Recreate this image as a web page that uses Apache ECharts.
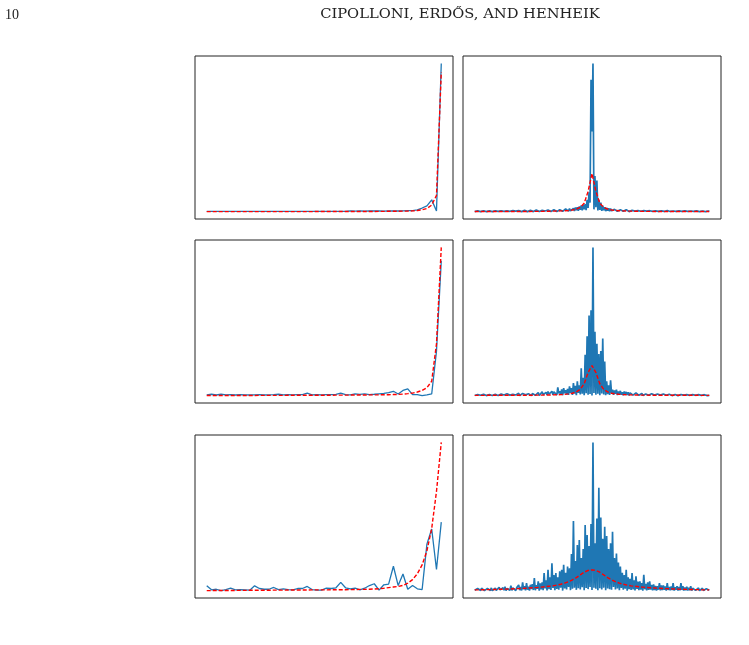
<!DOCTYPE html>
<html>
<head>
<meta charset="utf-8">
<script src="https://cdn.jsdelivr.net/npm/echarts@6/dist/echarts.min.js"></script>
<style>
  html, body { margin: 0; padding: 0; background: #fff; }
  #chart { width: 749px; height: 645px; }
</style>
</head>
<body>
<div id="chart"></div>
<script>
// page header
var pageNumber = '10';
var runningHead = 'CIPOLLONI, ERDŐS, AND HENHEIK';

// left column: 50 samples each (blue = data, red = fit)
var leftBlue1 = [0.2,0.3,0.2,0.2,0.3,0.2,0.2,0.3,0.2,0.2, 0.3,0.2,0.2,0.2,0.3,0.2,0.2,0.3,0.2,0.2,
  0.3,0.2,0.2,0.3,0.2,0.3,0.2,0.2,0.3,0.2, 0.5,0.4,0.5,0.4,0.5,0.6,0.5,0.4,0.6,0.5,
  0.5,0.6,0.7,0.8,1.2,2.5,4.0,8.0,0.5,100];
var leftRed1 = [0.1,0.1,0.1,0.1,0.1,0.1,0.1,0.1,0.1,0.1, 0.1,0.1,0.1,0.1,0.1,0.1,0.1,0.1,0.1,0.1,
  0.1,0.1,0.1,0.15,0.15,0.15,0.15,0.15,0.15,0.15, 0.2,0.2,0.2,0.2,0.2,0.2,0.25,0.25,0.3,0.3,
  0.35,0.4,0.45,0.55,0.8,1.3,2.2,4.5,11,94];

var leftBlue2 = [0.5,0.9,0.4,0.9,0.5,0.6,0.4,0.6,0.5,0.4, 0.5,0.6,0.4,0.5,0.6,0.9,0.5,0.6,0.5,0.7,
  0.6,1.6,0.5,0.6,0.5,0.6,0.7,0.8,1.6,0.6, 0.5,1.1,0.8,1.1,0.7,0.9,1.2,1.5,2.0,2.9,
  1.1,3.5,4.5,0.7,0.6,0.0,0.5,1.1,30,91];
var leftRed2 = [0.05,0.05,0.05,0.05,0.1,0.1,0.1,0.1,0.1,0.1, 0.1,0.15,0.15,0.15,0.15,0.15,0.15,0.2,0.2,0.2,
  0.2,0.2,0.2,0.25,0.25,0.25,0.25,0.3,0.3,0.3, 0.35,0.35,0.4,0.4,0.45,0.45,0.5,0.55,0.6,0.7,
  0.8,1.0,1.3,1.7,2.4,3.5,5.3,9.7,35,100];

var leftBlue3 = [3.4,0.7,1.1,0.2,0.8,1.8,0.7,0.9,0.7,0.5, 3.4,1.6,1.1,1.1,2.3,0.9,1.4,0.9,0.7,1.6,
  1.6,3.0,0.9,0.5,0.5,1.8,1.6,2.1,5.7,2.1, 1.4,1.8,0.7,1.8,3.6,4.8,0.5,4.1,4.6,16.6,
  3.6,11.4,1.1,3.6,1.4,0.9,31.5,41.7,14.4,46.3];
var leftRed3 = [0.2,0.2,0.25,0.25,0.3,0.3,0.3,0.35,0.35,0.4, 0.4,0.4,0.45,0.45,0.5,0.5,0.5,0.55,0.55,0.6,
  0.6,0.6,0.65,0.65,0.7,0.7,0.75,0.75,0.8,0.8, 0.85,0.9,1.0,1.05,1.15,1.3,1.5,1.8,2.2,2.6,
  3.0,3.7,5.2,7.6,11.5,17.5,27,42,67,100];

// right column: blue has 241 samples, red fit has 61 samples (every 4th position)
var rightBlue1 = [
  0.0,0.6, 0.2,0.5, 0.1,0.7, 0.0,0.4, 0.3,0.6, 0.1,0.5, 0.0,0.7, 0.2,0.5, 0.1,0.6, 0.0,0.4,
  0.2,0.5, 0.0,0.7, 0.1,0.6, 0.3,0.5, 0.0,0.7, 0.2,0.6, 0.1,0.5, 0.0,0.8, 0.2,0.6, 0.1,0.7,
  0.0,0.8, 0.3,0.6, 0.1,0.7, 0.2,0.9, 0.0,0.6, 0.1,0.8, 0.3,0.7, 0.0,0.9, 0.2,0.8, 0.1,1.0,
  0.0,0.8, 0.2,1.0, 0.3,0.9, 0.1,1.1, 0.0,0.8, 0.2,1.2, 0.4,0.9, 0.1,1.1, 0.3,1.0, 0.0,1.3,
  0.2,1.2, 0.5,1.0, 0.1,1.4, 0.3,1.2, 0.6,1.5, 0.2,1.3, 0.4,1.8, 0.7,1.4, 0.3,2.0, 0.5,1.8,
  0.8,2.2, 0.4,2.7, 1.0,3.0, 0.6,3.5, 1.2,4.2, 0.9,4.5, 1.5,5.0, 1.0,8.0, 2.5,13.0, 6.0,89.0,
  54.0,100, 1.5,24.0, 3.0,21.0, 0.8,8.0, 1.2,6.0, 0.5,4.0, 0.9,3.0, 0.3,2.5, 0.6,2.2, 0.2,2.0,
  0.5,1.6, 0.1,1.5, 0.4,1.3, 0.2,1.4, 0.3,1.2, 0.0,1.1, 0.2,1.0, 0.3,1.2, 0.1,0.9, 0.0,1.0,
  0.2,0.8, 0.1,0.9, 0.3,0.8, 0.0,0.7, 0.1,0.9, 0.2,0.8, 0.0,0.7, 0.1,0.6, 0.3,0.8, 0.0,0.6,
  0.2,0.7, 0.1,0.6, 0.0,0.5, 0.2,0.7, 0.1,0.6, 0.0,0.5, 0.3,0.6, 0.1,0.5, 0.0,0.7, 0.2,0.5,
  0.1,0.6, 0.0,0.4, 0.2,0.5, 0.1,0.6, 0.0,0.5, 0.2,0.4, 0.1,0.6, 0.0,0.5, 0.1,0.4, 0.2,0.5,
  0.0,0.4, 0.1,0.5, 0.2,0.3, 0.0,0.5, 0.1,0.4, 0.0,0.3, 0.2,0.4, 0.1,0.5, 0.0,0.3, 0.1,0.4,
  0.0];
var rightRed1 = [0.03,0.035,0.035,0.04,0.04,0.045,0.05,0.055,0.06,0.065,
  0.07,0.08,0.09,0.1,0.11,0.13,0.15,0.17,0.2,0.24,
  0.29,0.36,0.45,0.58,0.78,1.1,1.7,2.85,5.6,13.6,
  25.7,
  13.6,5.6,2.85,1.7,1.1,0.78,0.58,0.45,0.36,0.29,
  0.24,0.2,0.17,0.15,0.13,0.11,0.1,0.09,0.08,0.07,
  0.065,0.06,0.055,0.05,0.045,0.04,0.04,0.035,0.035,0.03];

var rightBlue2 = [
  0.1,0.9, 0.3,0.7, 0.0,1.0, 0.2,0.6, 0.4,0.9, 0.1,0.8, 0.0,1.1, 0.3,0.7, 0.2,1.2, 0.1,0.9,
  0.0,0.8, 0.3,1.1, 0.1,0.7, 0.2,1.0, 0.0,1.3, 0.4,0.8, 0.1,1.2, 0.2,1.0, 0.3,1.5, 0.0,0.9,
  0.2,1.3, 0.4,1.0, 0.1,1.6, 0.0,1.2, 0.3,1.4, 0.2,1.1, 0.5,1.8, 0.1,1.3, 0.3,1.6, 0.0,1.4,
  0.4,1.8, 0.2,1.5, 0.6,2.0, 0.1,1.4, 0.3,2.5, 0.7,1.8, 0.2,2.2, 0.5,2.8, 0.9,2.0, 0.3,2.9,
  0.6,2.5, 1.2,3.5, 0.4,5.6, 1.5,3.0, 0.8,4.2, 0.3,5.0, 1.6,3.6, 0.9,4.5, 0.5,6.3, 1.8,5.0,
  0.5,8.5, 1.4,6.5, 0.3,9.6, 1.8,7.0, 0.8,18.5, 1.2,12.0, 0.2,27.5, 1.6,40.0, 0.6,54.0, 1.0,57.6,
  0.1,100, 1.8,43.0, 0.5,35.0, 1.2,28.0, 0.3,30.0, 1.5,38.6, 0.7,23.0, 0.2,9.6, 1.0,7.0, 0.4,10.3,
  1.6,4.0, 0.5,3.5, 1.2,4.0, 0.3,2.8, 0.9,3.2, 0.6,2.2, 0.2,2.8, 0.8,2.5, 0.4,2.2, 0.1,1.8,
  0.6,2.6, 0.3,1.6, 0.0,1.8, 0.5,1.5, 0.2,1.3, 0.4,1.5, 0.1,1.3, 0.3,1.1, 0.0,1.4, 0.2,1.0,
  0.4,1.2, 0.1,0.9, 0.3,1.0, 0.0,1.1, 0.2,0.9, 0.3,0.8, 0.1,1.1, 0.0,0.7, 0.2,0.8, 0.1,0.9,
  0.3,0.9, 0.0,0.6, 0.2,0.7, 0.1,0.8, 0.0,0.6, 0.2,0.7, 0.1,0.5, 0.3,0.8, 0.0,0.6, 0.1,0.7,
  0.2,0.5, 0.0,0.7, 0.1,0.6, 0.2,0.5, 0.0,0.6, 0.1,0.4, 0.2,0.5, 0.0,0.6, 0.1,0.4, 0.0,0.5,
  0.1];
var rightRed2 = [0.16,0.17,0.17,0.18,0.18,0.19,0.19,0.2,0.2,0.21,
  0.22,0.23,0.24,0.25,0.26,0.28,0.3,0.33,0.36,0.4,
  0.45,0.52,0.65,0.85,1.15,1.6,2.5,4.2,8.0,15.5,
  20.3,
  15.5,8.0,4.2,2.5,1.6,1.15,0.85,0.65,0.52,0.45,
  0.4,0.36,0.33,0.3,0.28,0.26,0.25,0.24,0.23,0.22,
  0.21,0.2,0.2,0.19,0.19,0.18,0.18,0.17,0.17,0.16];

var rightBlue3 = [
  0.2,1.0, 0.0,1.4, 0.3,0.8, 0.1,1.6, 0.4,1.2, 0.0,1.1, 0.2,1.5, 0.3,0.9, 0.1,1.8, 0.0,1.3,
  0.4,1.6, 0.2,1.2, 0.0,2.2, 0.5,1.5, 0.1,1.9, 0.3,2.6, 0.0,1.4, 0.6,2.4, 0.2,3.4, 0.1,1.8,
  0.5,2.8, 0.0,2.0, 0.8,3.8, 0.3,2.5, 0.1,5.6, 0.9,3.0, 0.2,5.0, 0.6,2.6, 0.0,3.9, 1.0,4.4,
  0.4,8.5, 0.2,3.6, 1.2,6.2, 0.0,4.8, 0.8,5.5, 0.3,11.8, 1.5,7.0, 0.1,14.0, 0.9,9.0, 0.4,18.5,
  1.8,10.5, 0.2,11.8, 1.1,9.0, 0.6,13.0, 2.0,14.0, 0.0,17.4, 1.4,12.0, 0.8,16.3, 2.5,15.0, 0.3,24.6,
  1.2,46.9, 2.0,20.0, 0.5,30.8, 1.6,34.2, 0.8,22.0, 2.2,28.0, 0.2,44.2, 1.8,37.5, 1.0,30.0, 2.4,44.9,
  0.4,100, 2.0,32.0, 1.2,48.7, 0.3,69.4, 1.6,49.4, 0.8,35.0, 2.0,43.0, 0.3,36.8, 1.4,28.0, 1.0,32.0,
  0.5,39.7, 2.4,22.0, 0.8,25.0, 1.5,19.0, 0.2,16.3, 1.8,12.0, 0.6,10.5, 1.2,14.0, 0.0,9.0, 1.0,8.0,
  0.4,11.8, 0.8,7.0, 0.1,9.6, 1.1,6.0, 0.3,6.3, 0.6,5.0, 0.0,10.7, 0.9,4.5, 0.2,5.5, 0.5,6.3,
  0.7,3.8, 0.1,4.2, 0.4,3.2, 0.0,3.0, 0.6,5.0, 0.2,3.5, 0.3,3.5, 0.5,2.8, 0.0,5.0, 0.4,2.4,
  0.2,2.8, 0.3,5.0, 0.0,2.2, 0.5,3.0, 0.1,2.4, 0.2,5.0, 0.4,3.0, 0.0,2.0, 0.3,2.6, 0.1,1.8,
  0.2,3.0, 0.0,1.6, 0.4,2.2, 0.1,1.4, 0.3,1.8, 0.0,1.2, 0.2,1.6, 0.1,1.0, 0.0,1.3, 0.3,0.8,
  0.2];
var rightRed3 = [0.45,0.5,0.56,0.63,0.7,0.78,0.85,0.92,1.0,1.1,
  1.2,1.3,1.45,1.6,1.75,1.9,2.1,2.35,2.6,2.9,
  3.2,3.7,4.3,5.0,6.0,7.3,8.8,10.6,12.4,13.6,
  14.0,
  13.6,12.4,10.6,8.8,7.3,6.0,5.0,4.3,3.7,3.2,
  2.9,2.6,2.35,2.1,1.9,1.75,1.6,1.45,1.3,1.2,
  1.1,1.0,0.92,0.85,0.78,0.7,0.63,0.56,0.5,0.45];

var chart = echarts.init(document.getElementById('chart'), null, { renderer: 'canvas' });

// panels: blue data, red fit, spacing of the red samples, top-left corner of the box
var panels = [
  { blue: leftBlue1,  red: leftRed1,  redStep: 1, left: 195, top: 56,  lw: 1.3 },
  { blue: rightBlue1, red: rightRed1, redStep: 4, left: 463, top: 56,  lw: 1.7 },
  { blue: leftBlue2,  red: leftRed2,  redStep: 1, left: 195, top: 240, lw: 1.3 },
  { blue: rightBlue2, red: rightRed2, redStep: 4, left: 463, top: 240, lw: 1.7 },
  { blue: leftBlue3,  red: leftRed3,  redStep: 1, left: 195, top: 435, lw: 1.3 },
  { blue: rightBlue3, red: rightRed3, redStep: 4, left: 463, top: 435, lw: 1.7 }
];

function toPoints(vals, step) {
  return vals.map(function (v, i) { return [i * step, v]; });
}

var grids = [], xAxes = [], yAxes = [], series = [];
panels.forEach(function (p, k) {
  grids.push({
    left: p.left, top: p.top, width: 258, height: 163,
    show: true, borderColor: '#222', borderWidth: 1, backgroundColor: '#fff'
  });
  // matplotlib style 5% margins
  var n = p.blue.length - 1;
  var all = p.blue.concat(p.red);
  var lo = Math.min.apply(null, all), hi = Math.max.apply(null, all);
  var pad = (hi - lo) * 0.05;
  xAxes.push({
    type: 'value', gridIndex: k, min: -n * 0.05, max: n * 1.05,
    axisLine: { show: false }, axisTick: { show: false },
    axisLabel: { show: false }, splitLine: { show: false }
  });
  yAxes.push({
    type: 'value', gridIndex: k, min: lo - pad, max: hi + pad,
    axisLine: { show: false }, axisTick: { show: false },
    axisLabel: { show: false }, splitLine: { show: false }
  });
  series.push({
    type: 'line', xAxisIndex: k, yAxisIndex: k,
    data: toPoints(p.blue, 1), showSymbol: false, silent: true,
    lineStyle: { color: '#1f77b4', width: p.lw }
  });
  series.push({
    type: 'line', xAxisIndex: k, yAxisIndex: k,
    data: toPoints(p.red, p.redStep), showSymbol: false, silent: true,
    lineStyle: { color: '#ff0000', width: 1.4, type: [4, 2] }
  });
});

chart.setOption({
  animation: false,
  backgroundColor: '#fff',
  grid: grids,
  xAxis: xAxes,
  yAxis: yAxes,
  series: series,
  graphic: [
    {
      type: 'text', x: 5, y: 15,
      style: { text: pageNumber, font: '14px "Liberation Serif"', fill: '#222', textVerticalAlign: 'middle' }
    },
    {
      type: 'text', x: 460, y: 15, scaleX: 1.13,
      style: { text: runningHead, font: '13px "DejaVu Serif"', fill: '#222', textAlign: 'center', textVerticalAlign: 'middle' }
    }
  ]
});
</script>
</body>
</html>
